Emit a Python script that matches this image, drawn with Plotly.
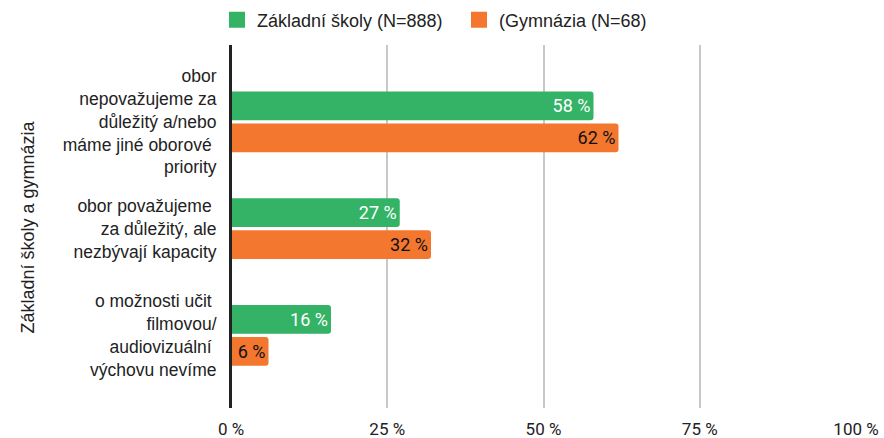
import plotly.graph_objects as go

categories = [
    "obor<br>nepovažujeme za<br>důležitý a/nebo<br>máme jiné oborové <br>priority",
    "obor považujeme <br>za důležitý, ale<br>nezbývají kapacity",
    "o možnosti učit <br>filmovou/<br>audiovizuální <br>výchovu nevíme",
]
zs_values = [58, 27, 16]
gym_values = [62, 32, 6]
series_names = ["Základní školy (N=888)", "(Gymnázia (N=68)"]
x_ticks = [0, 25, 50, 75, 100]
y_title = "Základní školy a gymnázia"

green = "#34b366"
orange = "#f3772f"
arial = "Arial, 'Liberation Sans', sans-serif"
roboto = "Roboto, Arial, sans-serif"
txt = "#222222"

fig = go.Figure()
fig.add_trace(go.Bar(
    y=categories, x=zs_values, orientation="h", name=series_names[0],
    marker=dict(color=green, line=dict(width=0)), showlegend=False,
    text=[f"{v} %" for v in zs_values], textposition="inside",
    insidetextanchor="end", textfont=dict(color="white", size=18, family=roboto),
))
fig.add_trace(go.Bar(
    y=categories, x=gym_values, orientation="h", name=series_names[1],
    marker=dict(color=orange, line=dict(width=0)), showlegend=False,
    text=[f"{v} %" for v in gym_values], textposition="inside",
    insidetextanchor="end", textfont=dict(color="#111111", size=18, family=roboto),
))
# legend entries with larger square swatches
for name, col in zip(series_names, [green, orange]):
    fig.add_trace(go.Scatter(
        x=[None], y=[None], mode="markers", name=name,
        marker=dict(symbol="square", size=16, color=col),
        showlegend=True,
    ))

fig.update_layout(
    width=884, height=438,
    margin=dict(l=231, r=28, t=45, b=30, autoexpand=False),
    paper_bgcolor="white", plot_bgcolor="white",
    font=dict(family=arial, size=17, color=txt),
    barmode="group", bargap=0.40, bargroupgap=0.10,
    barcornerradius=3,
    uniformtext=dict(minsize=8, mode=False),
    legend=dict(orientation="h", x=(228 - 11) / 884, xref="container", xanchor="left",
                y=1 - 20 / 438, yref="container", yanchor="middle",
                font=dict(size=18, family=arial, color=txt),
                itemwidth=30, traceorder="normal", entrywidth=197),
    showlegend=True,
)
fig.update_xaxes(
    range=[0, 100], tickvals=x_ticks, ticktext=[f"{v} %" for v in x_ticks],
    showgrid=True, gridcolor="#c8c8c8", gridwidth=1.5,
    zeroline=False, showline=False, ticks="", automargin=False,
    tickfont=dict(size=17, color=txt, family=roboto), ticklabelstandoff=9,
)
fig.update_yaxes(
    type="category", categoryorder="array", categoryarray=categories,
    range=[2.68, -0.72], autorange=False, automargin=False,
    showline=True, linecolor="#222222", linewidth=2,
    showgrid=False, ticks="", ticklabelstandoff=9,
    tickfont=dict(size=17.5, color=txt, family=arial),
)
fig.add_vline(x=0, line=dict(color="#222222", width=2))
fig.add_annotation(
    text=y_title, textangle=-90,
    xref="paper", yref="paper", x=(27 - 231) / 625, y=0.5,
    xanchor="center", yanchor="middle", showarrow=False,
    font=dict(size=18, color=txt, family=arial),
)
fig.write_html(
    "out.html",
    config={"displayModeBar": False},
    post_script="document.body.style.margin='0';document.body.style.overflow='hidden';",
)
